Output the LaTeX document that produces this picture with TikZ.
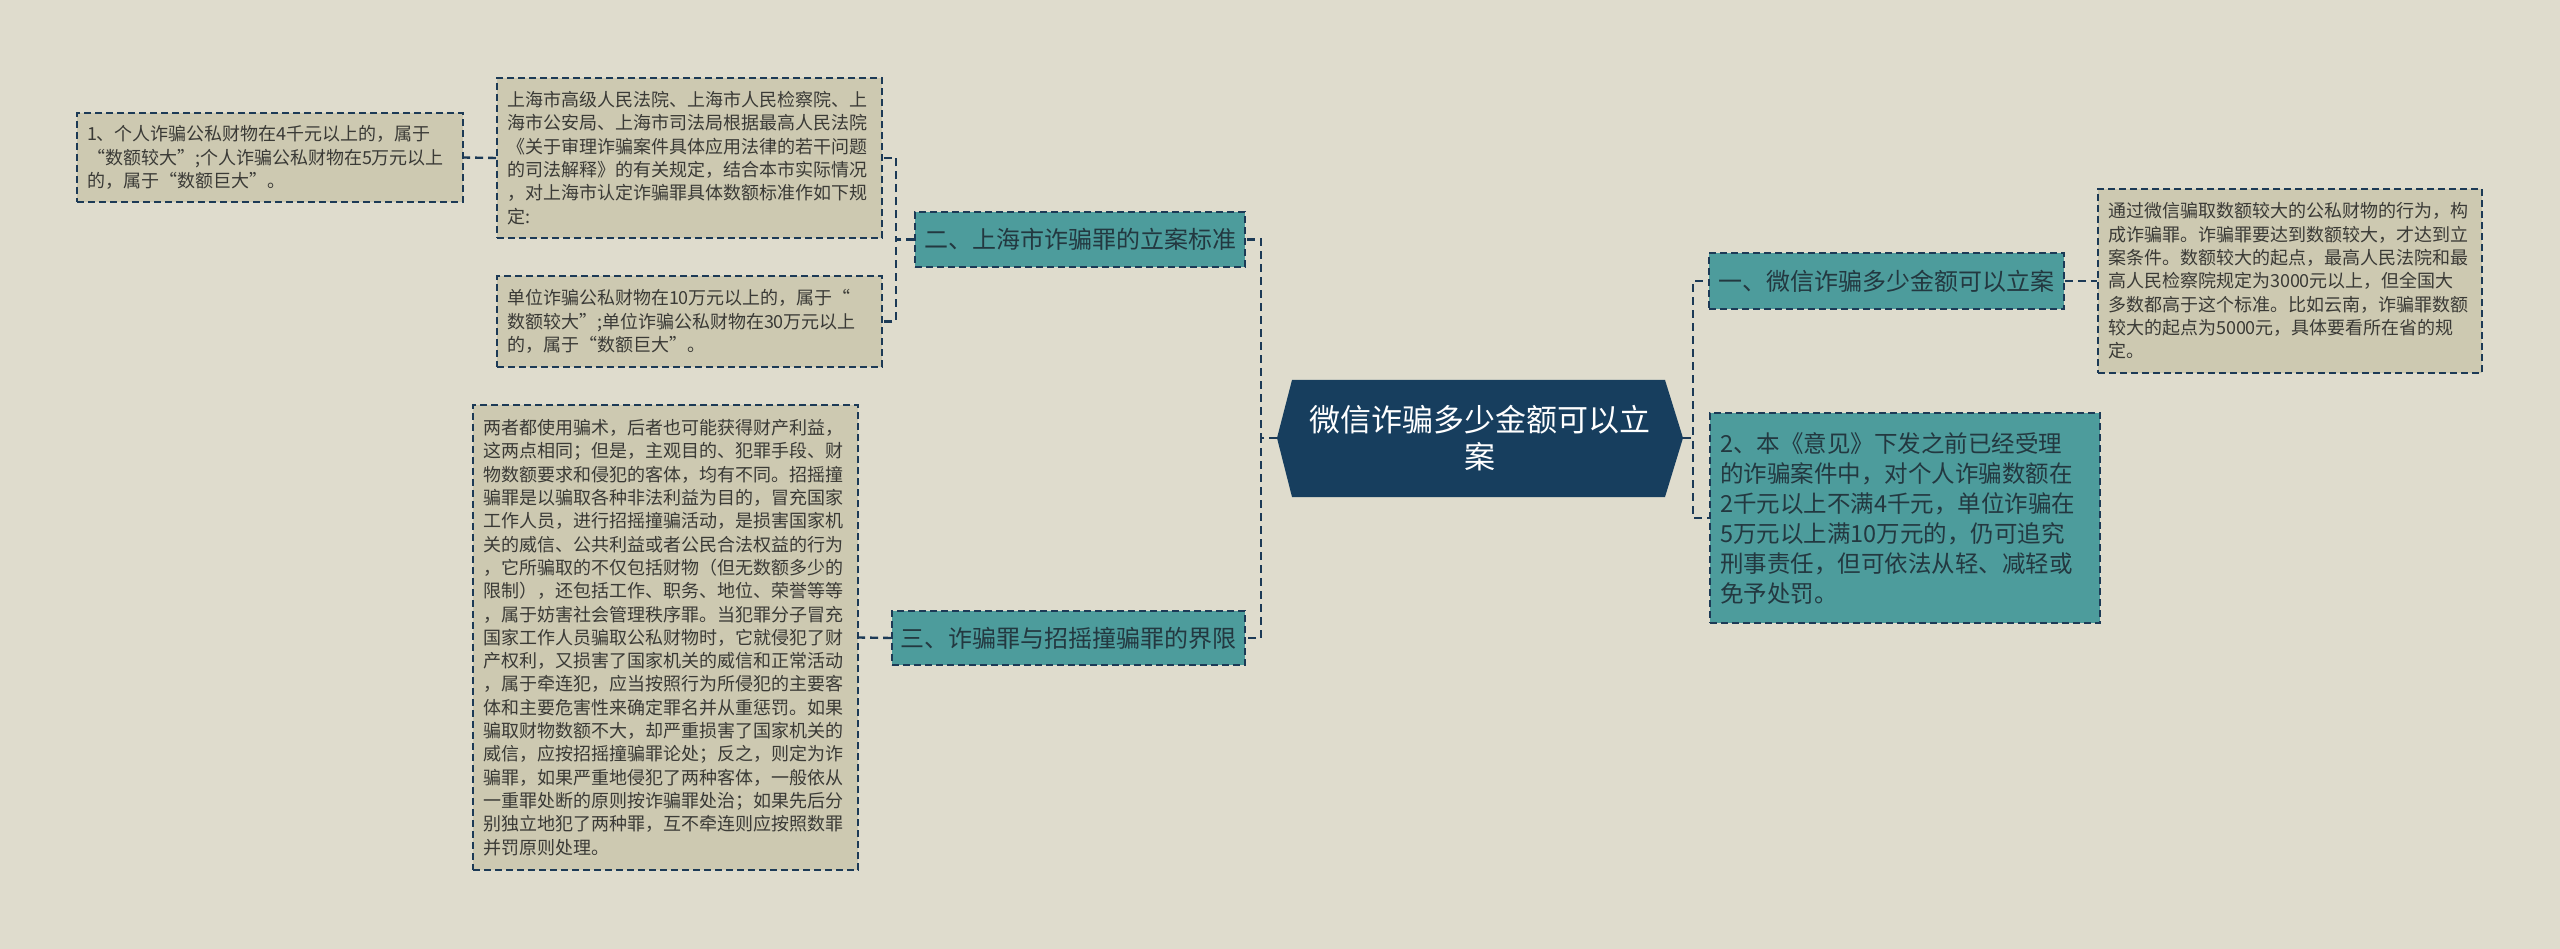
\documentclass[tikz,border=0pt]{standalone}
\usepackage{fontspec}
\newfontfamily\cjk{Noto Sans CJK SC}
\definecolor{bg}{HTML}{DFDCCD}
\definecolor{detailfill}{HTML}{CDC9B1}
\definecolor{teal1}{HTML}{4D9C9C}
\definecolor{navy}{HTML}{1C3A56}
\definecolor{rootfill}{HTML}{173E5E}
\definecolor{txt}{HTML}{3A3A36}
\definecolor{tealtxt}{HTML}{233840}
\tikzset{
  detail/.style={draw=navy, fill=detailfill, line width=1.6pt, dash pattern=on 7pt off 4pt,
    inner xsep=10pt, inner ysep=4pt, align=left, text=txt,
    font=\cjk\fontsize{18}{23.3}\selectfont},
  branch/.style={draw=navy, fill=teal1, line width=1.6pt, dash pattern=on 7pt off 4pt,
    inner sep=0pt, text=tealtxt, font=\cjk\fontsize{24}{30}\selectfont},
  tealdetail/.style={draw=navy, fill=teal1, line width=1.6pt, dash pattern=on 7pt off 4pt,
    inner xsep=10pt, inner ysep=4pt, align=left, text=tealtxt,
    font=\cjk\fontsize{23.5}{30}\selectfont},
  conn/.style={draw=navy, line width=2.4pt, dash pattern=on 8pt off 5pt},
}
\begin{document}
\begin{tikzpicture}[x=1pt,y=-1pt]
\path[use as bounding box, fill=bg] (0,0) rectangle (2560,949);

% root hexagon
\fill[rootfill] (1277,438) -- (1292,380) -- (1665,380) -- (1683,438) -- (1665,497) -- (1292,497) -- cycle;
\node[text=white, align=center, font=\cjk\fontsize{31}{37}\selectfont] (root) at (1480,438) {微信诈骗多少金额可以立\\案};
\coordinate (rootL) at (1277,438);
\coordinate (rootR) at (1683,438);

% branches
\node[branch, minimum width=355pt, minimum height=56pt] (b1) at (1886.5,281) {一、微信诈骗多少金额可以立案};
\node[branch, minimum width=330pt, minimum height=55pt] (b2) at (1080,239.5) {二、上海市诈骗罪的立案标准};
\node[branch, minimum width=353pt, minimum height=54pt] (b3) at (1068.5,638) {三、诈骗罪与招摇撞骗罪的界限};

% details
\node[detail, text width=364pt, minimum height=184pt] (E) at (2290,281) {通过微信骗取数额较大的公私财物的行为，构\\成诈骗罪。诈骗罪要达到数额较大，才达到立\\案条件。数额较大的起点，最高人民法院和最\\高人民检察院规定为3000元以上，但全国大\\多数都高于这个标准。比如云南，诈骗罪数额\\较大的起点为5000元，具体要看所在省的规\\定。};

\node[tealdetail, text width=370pt, minimum height=210pt] (F) at (1905,518) {2、本《意见》下发之前已经受理\\的诈骗案件中，对个人诈骗数额在\\2千元以上不满4千元，单位诈骗在\\5万元以上满10万元的，仍可追究\\刑事责任，但可依法从轻、减轻或\\免予处罚。};

\node[detail, text width=365pt, minimum height=160pt] (B) at (689.5,158) {上海市高级人民法院、上海市人民检察院、上\\海市公安局、上海市司法局根据最高人民法院\\《关于审理诈骗案件具体应用法律的若干问题\\的司法解释》的有关规定，结合本市实际情况\\，对上海市认定诈骗罪具体数额标准作如下规\\定:};

\node[detail, text width=365pt, minimum height=91pt] (C) at (689.5,321.5) {单位诈骗公私财物在10万元以上的，属于“\\数额较大”;单位诈骗公私财物在30万元以上\\的，属于“数额巨大”。};

\node[detail, text width=366pt, minimum height=89pt] (A) at (270,157.5) {1、个人诈骗公私财物在4千元以上的，属于\\“数额较大”;个人诈骗公私财物在5万元以上\\的，属于“数额巨大”。};

\node[detail, text width=365pt, minimum height=465pt] (D) at (665.5,637.5) {两者都使用骗术，后者也可能获得财产利益，\\这两点相同；但是，主观目的、犯罪手段、财\\物数额要求和侵犯的客体，均有不同。招摇撞\\骗罪是以骗取各种非法利益为目的，冒充国家\\工作人员，进行招摇撞骗活动，是损害国家机\\关的威信、公共利益或者公民合法权益的行为\\，它所骗取的不仅包括财物（但无数额多少的\\限制），还包括工作、职务、地位、荣誉等等\\，属于妨害社会管理秩序罪。当犯罪分子冒充\\国家工作人员骗取公私财物时，它就侵犯了财\\产权利，又损害了国家机关的威信和正常活动\\，属于牵连犯，应当按照行为所侵犯的主要客\\体和主要危害性来确定罪名并从重惩罚。如果\\骗取财物数额不大，却严重损害了国家机关的\\威信，应按招摇撞骗罪论处；反之，则定为诈\\骗罪，如果严重地侵犯了两种客体，一般依从\\一重罪处断的原则按诈骗罪处治；如果先后分\\别独立地犯了两种罪，互不牵连则应按照数罪\\并罚原则处理。};

% connectors
\draw[conn] (rootR) -- ++(10,0) |- (b1.west);
\draw[conn] (rootR) -- ++(10,0) |- (F.west);
\draw[conn] (b1.east) -- (E.west);
\draw[conn] (rootL) -- ++(-16,0) |- (b2.east);
\draw[conn] (rootL) -- ++(-16,0) |- (b3.east);
\draw[conn] (b2.west) -- ++(-18,0) |- (B.east);
\draw[conn] (b2.west) -- ++(-18,0) |- (C.east);
\draw[conn] (B.west) -- (A.east);
\draw[conn] (b3.west) -- (D.east);
\end{tikzpicture}
\end{document}
